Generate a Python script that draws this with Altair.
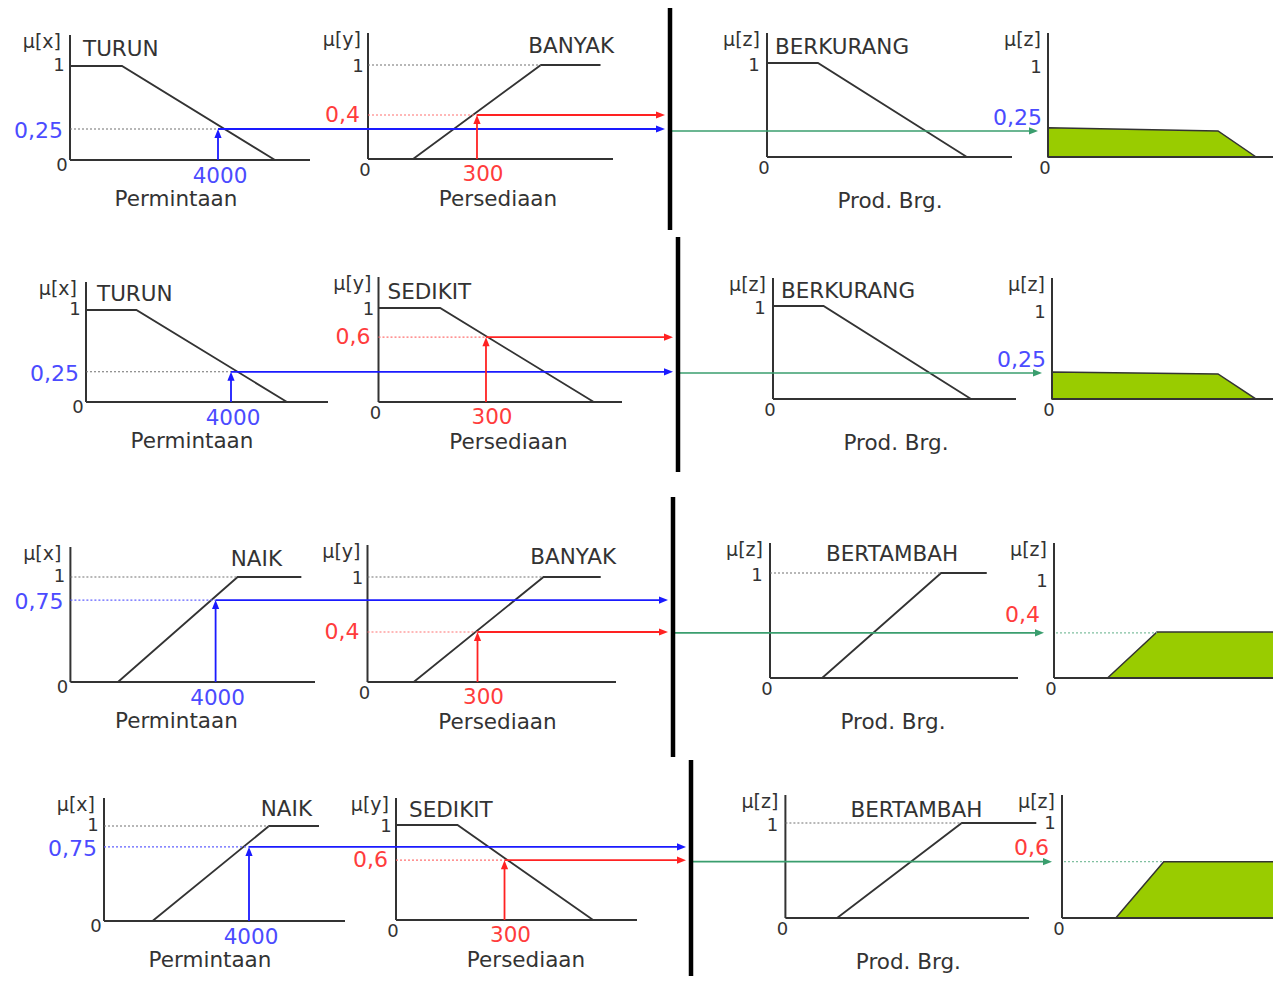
import altair as alt
import pandas as pd

# ------------------------------------------------------------------
# Values
# ------------------------------------------------------------------
INPUT_X = 4000          # Permintaan
INPUT_Y = 300           # Persediaan

SETS_X = ["TURUN", "TURUN", "NAIK", "NAIK"]
SETS_Y = ["BANYAK", "SEDIKIT", "BANYAK", "SEDIKIT"]
SETS_Z = ["BERKURANG", "BERKURANG", "BERTAMBAH", "BERTAMBAH"]

# membership function breakpoints (value, mu) per rule row
MF_X = [
    [(0, 1), (1405, 1), (5540, 0)],
    [(0, 1), (1390, 1), (5545, 0)],
    [(1310, 0), (4607, 1), (6362, 1)],
    [(1338, 0), (4552, 1), (5931, 1)],
]
MF_Y = [
    [(124, 0), (476, 1), (640, 1)],
    [(0, 1), (172, 1), (601, 0)],
    [(126, 0), (480, 1), (636, 1)],
    [(0, 1), (170, 1), (545, 0)],
]
MF_Z = [
    [(0, 1), (20.8, 1), (81.6, 0)],
    [(0, 1), (20.8, 1), (81.5, 0)],
    [(21, 0), (69, 1), (87.4, 1)],
    [(21.2, 0), (72.4, 1), (103, 1)],
]
# clipped consequent (implication result) per row
OUT_Z = [
    [(0, 0.31), (68, 0.277), (83.2, 0)],
    [(0, 0.29), (66.4, 0.27), (81.6, 0)],
    [(21.4, 0), (41.2, 0.438), (200, 0.438)],
    [(21.5, 0), (40.7, 0.593), (200, 0.593)],
]

# stated degrees (labels) and the levels as drawn in the picture
LABEL_X = ["0,25", "0,25", "0,75", "0,75"]
LABEL_Y = ["0,4", "0,6", "0,4", "0,6"]
LABEL_OUT = ["0,25", "0,25", "0,4", "0,6"]
OUT_FROM = ["x", "x", "y", "y"]
DRAWN_X = [0.33, 0.328, 0.78, 0.78]
DRAWN_Y = [0.468, 0.69, 0.476, 0.63]
DRAWN_Z = [0.277, 0.28, 0.43, 0.593]

AXIS_NAMES = ["Permintaan", "Persediaan", "Prod. Brg."]
MU_NAMES = ["\u03bc[x]", "\u03bc[y]", "\u03bc[z]", "\u03bc[z]"]

# ------------------------------------------------------------------
# Layout (pixel frame of every small panel)
# (x0, y0, px per unit, px per mu=1, axis top, axis end)
# ------------------------------------------------------------------
FRAMES = [
    [(70, 160, 0.0370, 94, 35, 310), (368, 159, 0.3633, 94, 33, 613),
     (767, 157, 2.45, 94, 33, 1012), (1048, 157, 2.5, 94, 33, 1290)],
    [(86, 402, 0.03625, 92, 282, 328), (378.5, 402, 0.3583, 94, 277, 622),
     (773, 399, 2.43, 93, 278, 1016), (1052, 399, 2.5, 93, 278, 1290)],
    [(70.4, 682, 0.0363, 105, 547, 315), (367.5, 682, 0.3667, 105, 545, 616),
     (770, 678, 2.48, 105, 543, 1018), (1054, 678, 2.5, 105, 543, 1290)],
    [(104, 921, 0.03625, 95, 798, 345), (396, 920, 0.3617, 95, 798, 637),
     (785.4, 918, 2.436, 95, 795, 1029), (1062, 918, 2.5, 95, 795, 1290)],
]
BARS = [(670, 8, 230), (678, 237, 472), (673, 497, 757), (691, 760, 988)]
SET_LABEL_POS = [
    [(13, 15, "left"), (246, 14, "right"), (8, 15, "left")],
    [(11, 13, "left"), (9, 16, "left"), (8, 14, "left")],
    [(211.6, 13, "right"), (248.5, 13, "right"), (56, 12, "left")],
    [(208, 12, "right"), (13, 13, "left"), (65, 16, "left")],
]
OUT_LABEL_D = [(-6, -13), (-6, -13), (-14, -18), (-13, -14)]
ONE_DY_P4 = [5, 7, 9, 1]
X_LEVEL_DOT = ["dot_grey", "dot_grey", "dot_blue", "dot_blue"]

INK = "#333333"
BLUE = "#1a1aff"
BLUE_TXT = "#4b4bff"
RED = "#ff2222"
RED_TXT = "#ff3c3c"
GREEN = "#3a9e6e"
FILL = "#99cc00"
FONT = "DejaVu Sans"
BIG = 21.5
MID = 22
SMALL = 18
MU = 19

STYLES = {
    "axis": dict(color=INK, strokeWidth=2),
    "mf": dict(color=INK, strokeWidth=1.8),
    "dot_grey": dict(color="#707070", strokeWidth=1.1, strokeDash=[2, 2]),
    "dot_blue": dict(color="#6060ff", strokeWidth=1.1, strokeDash=[2, 2]),
    "dot_red": dict(color="#ff7070", strokeWidth=1.1, strokeDash=[2, 2]),
    "dot_green": dict(color="#80c0a0", strokeWidth=1.1, strokeDash=[2, 2]),
    "blue": dict(color=BLUE, strokeWidth=1.8),
    "red": dict(color=RED, strokeWidth=1.8),
    "green": dict(color=GREEN, strokeWidth=1.6),
    "bar": dict(color="#000000", strokeWidth=4.5),
}

HEAD_RIGHT = "M0,0L-2,-0.8L-2,0.8Z"
HEAD_UP = "M0,0L-0.8,2L0.8,2Z"

# ------------------------------------------------------------------
# Build the tables
# ------------------------------------------------------------------
lines, heads, texts, area = [], [], [], []
seg_id = [0]


def px(f, u):
    return f[0] + u * f[2]


def py(f, m):
    return f[1] - m * f[3]


def seg(style, pts):
    seg_id[0] += 1
    for i, (x, y) in enumerate(pts):
        lines.append(dict(seg=seg_id[0], i=i, x=x, y=y, style=style))


def txt(t, x, y, align="center", color=INK, size=BIG):
    texts.append(dict(t=t, x=x, y=y, align=align, c=color, s=size))


for r in range(4):
    F = FRAMES[r]
    bar_x, bar_y1, bar_y2 = BARS[r]
    seg("bar", [(bar_x, bar_y1), (bar_x, bar_y2)])

    # axes
    for f in F:
        seg("axis", [(f[0], f[4]), (f[0], f[1])])
        seg("axis", [(f[0], f[1]), (f[5], f[1])])

    # membership functions and 'mu = 1' guides
    for k, mf in enumerate([MF_X[r], MF_Y[r], MF_Z[r]]):
        f = F[k]
        seg("mf", [(px(f, u), py(f, m)) for u, m in mf])
        if mf[0][1] == 0:
            seg("dot_grey", [(f[0], py(f, 1)), (px(f, mf[1][0]), py(f, 1))])

    # antecedent x
    f1 = F[0]
    ax = px(f1, INPUT_X)
    ly = py(f1, DRAWN_X[r])
    seg(X_LEVEL_DOT[r], [(f1[0], ly), (ax, ly)])
    seg("blue", [(ax, f1[1]), (ax, ly + 5)])
    heads.append(dict(x=ax, y=ly, shape=HEAD_UP, c=BLUE))
    seg("blue", [(ax, ly), (bar_x - 12, ly)])
    heads.append(dict(x=bar_x - 5, y=ly, shape=HEAD_RIGHT, c=BLUE))
    txt(LABEL_X[r], f1[0] - 7, ly + 2, "right", BLUE_TXT, MID)
    txt(str(INPUT_X), ax + 2, f1[1] + 17, "center", BLUE_TXT)

    # antecedent y
    f2 = F[1]
    ay = px(f2, INPUT_Y)
    ry = py(f2, DRAWN_Y[r])
    seg("dot_red", [(f2[0], ry), (ay, ry)])
    seg("red", [(ay, f2[1]), (ay, ry + 5)])
    heads.append(dict(x=ay, y=ry, shape=HEAD_UP, c=RED))
    seg("red", [(ay, ry), (bar_x - 12, ry)])
    heads.append(dict(x=bar_x - 5, y=ry, shape=HEAD_RIGHT, c=RED))
    txt(LABEL_Y[r], f2[0] - 8, ry, "right", RED_TXT, MID)
    txt(str(INPUT_Y), ay + 6, f2[1] + 15.5, "center", RED_TXT)

    # implication: green arrow to the result panel
    f3, f4 = F[2], F[3]
    gy = py(f3, DRAWN_Z[r])
    seg("green", [(bar_x, gy), (f4[0] - 17, gy)])
    heads.append(dict(x=f4[0] - 10, y=gy, shape=HEAD_RIGHT, c=GREEN))
    out = OUT_Z[r]
    if out[0][1] == 0:
        seg("dot_green", [(f4[0] + 2, gy), (px(f4, out[1][0]), gy)])
    for i, (u, m) in enumerate(out):
        area.append(dict(row=r, i=i, x=px(f4, u), y=py(f4, m), y2=f4[1]))
    odx, ody = OUT_LABEL_D[r]
    txt(LABEL_OUT[r], f4[0] + odx, gy + ody, "right",
        BLUE_TXT if OUT_FROM[r] == "x" else RED_TXT, MID)

    # static texts
    for k, f in enumerate(F):
        txt(MU_NAMES[k], f[0] - 7 - (2 if k == 0 else 0), f[4] + 7, "right", INK, MU)
        one_dx = [-11, -10, -13, -12][k]
        one_dy = [0, 2, 3, ONE_DY_P4[r]][k]
        txt("1", f[0] + one_dx, py(f, 1) + one_dy, "center", INK, SMALL)
        if k == 0:
            txt("0", f[0] - 8, f[1] + 6, "center", INK, SMALL)
        else:
            txt("0", f[0] - 3, f[1] + 12, "center", INK, SMALL)
    for k, name in enumerate([SETS_X[r], SETS_Y[r], SETS_Z[r]]):
        dx, dy, al = SET_LABEL_POS[r][k]
        txt(name, F[k][0] + dx, F[k][4] + dy, al, INK, BIG)
    txt(AXIS_NAMES[0], F[0][0] + 106, F[0][1] + 40)
    txt(AXIS_NAMES[1], F[1][0] + 130, F[1][1] + 41)
    txt(AXIS_NAMES[2], F[2][0] + 123, F[2][1] + 45)

df_lines = pd.DataFrame(lines)
df_heads = pd.DataFrame(heads)
df_texts = pd.DataFrame(texts)
df_area = pd.DataFrame(area)

XS = alt.Scale(domain=[8, 1273], nice=False, zero=False)
YS = alt.Scale(domain=[8, 976], nice=False, zero=False, reverse=True)
X = alt.X("x:Q", scale=XS, axis=None)
Y = alt.Y("y:Q", scale=YS, axis=None, stack=None)

layers = []
layers.append(
    alt.Chart(df_area).mark_area(color=FILL, stroke=INK, strokeWidth=1.5,
                                 orient="vertical", opacity=1, fillOpacity=1)
    .encode(x=X, y=Y, y2="y2:Q", detail="row:N")
)
for style, props in STYLES.items():
    sub = df_lines[df_lines["style"] == style]
    if len(sub) == 0:
        continue
    layers.append(
        alt.Chart(sub).mark_line(**props)
        .encode(x=X, y=alt.Y("y:Q", scale=YS, axis=None), detail="seg:N",
                order=alt.Order("i:Q"))
    )
layers.append(
    alt.Chart(df_heads).mark_point(filled=True, opacity=1, size=81, strokeWidth=0)
    .encode(x=X, y=alt.Y("y:Q", scale=YS, axis=None),
            shape=alt.Shape("shape:N", scale=None),
            color=alt.Color("c:N", scale=None))
)
for al in ["left", "center", "right"]:
    sub = df_texts[df_texts["align"] == al]
    layers.append(
        alt.Chart(sub).mark_text(font=FONT, align=al, baseline="middle")
        .encode(x=X, y=alt.Y("y:Q", scale=YS, axis=None), text="t:N",
                color=alt.Color("c:N", scale=None),
                size=alt.Size("s:Q", scale=None))
    )

chart = (
    alt.layer(*layers)
    .properties(width=1265, height=968, padding=0,
                autosize=alt.AutoSizeParams(type="none"), background="white")
    .configure_view(stroke=None)
)

chart.save("out.html", embed_options={"renderer": "svg", "actions": False})
